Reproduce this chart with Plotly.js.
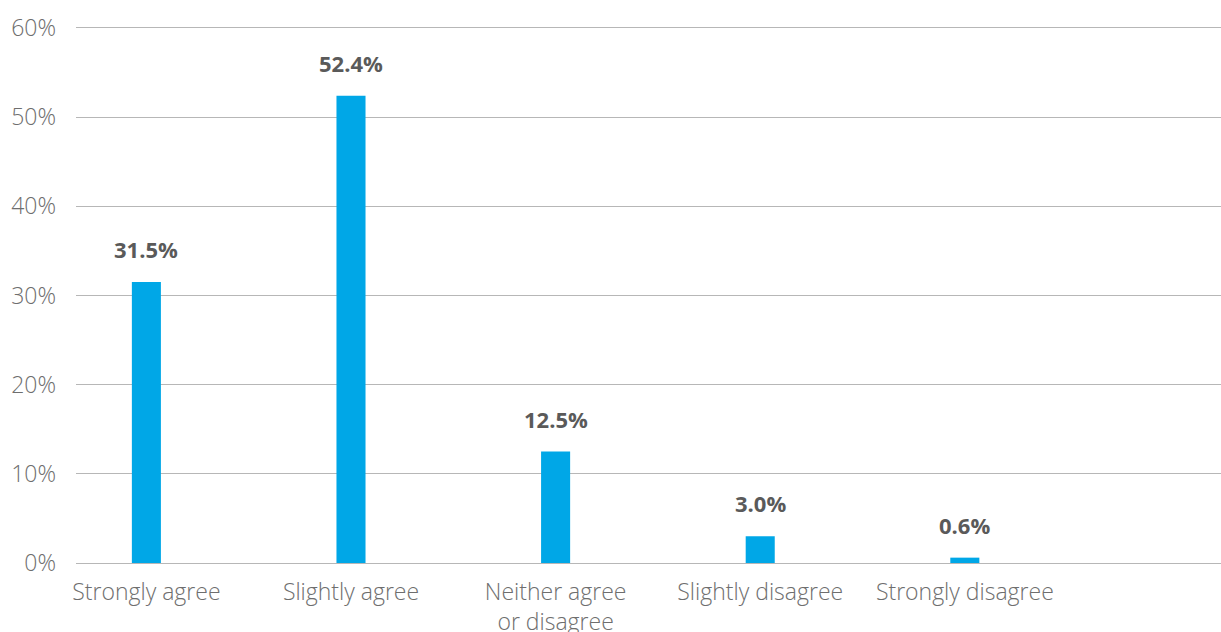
<!DOCTYPE html>
<html>
<head>
<meta charset="utf-8">
<script src="https://cdn.plot.ly/plotly-3.0.1.min.js"></script>
<style>
  html, body { margin: 0; padding: 0; background: #ffffff; }
  #chart { width: 1221px; height: 632px; }
</style>
</head>
<body>
<div id="chart"></div>
<script>
// Survey responses, share of respondents per answer
const categories = ["Strongly agree", "Slightly agree", "Neither agree<br>or disagree", "Slightly disagree", "Strongly disagree"];
const shares = [31.5, 52.4, 12.5, 3.0, 0.6];
const yTickValues = [0, 10, 20, 30, 40, 50, 60];
const yTickLabels = ["0%", "10%", "20%", "30%", "40%", "50%", "60%"];

const barColor = "#00a7e7";
const gridColor = "#b7b7b7";
const tickColor = "#6e6e6e";
const labelColor = "#5a5a5a";
const fontFamily = "'Open Sans', Lato, sans-serif";

const trace = {
  type: "bar",
  x: categories,
  y: shares,
  width: 0.142,
  marker: { color: barColor },
  hoverinfo: "skip"
};

const valueLabels = categories.map((c, i) => ({
  x: c,
  y: shares[i],
  text: shares[i].toFixed(1) + "%",
  showarrow: false,
  yanchor: "bottom",
  yshift: 16,
  font: { family: fontFamily, size: 22, color: labelColor, weight: 700 }
}));

const layout = {
  width: 1221,
  height: 632,
  margin: { l: 76, r: 0, t: 25, b: 69 },
  paper_bgcolor: "#ffffff",
  plot_bgcolor: "#ffffff",
  showlegend: false,
  font: { family: fontFamily, color: tickColor, size: 22 },
  xaxis: {
    type: "category",
    range: [-0.344, 5.252],
    showgrid: false,
    showline: false,
    zeroline: false,
    ticks: "",
    ticklabelstandoff: 13,
    tickfont: { family: fontFamily, size: 23, color: tickColor, weight: 300 },
    fixedrange: true
  },
  yaxis: {
    range: [0, 60.33],
    tickvals: yTickValues,
    ticktext: yTickLabels,
    showgrid: true,
    gridcolor: gridColor,
    gridwidth: 1,
    zeroline: true,
    zerolinecolor: gridColor,
    zerolinewidth: 1,
    showline: false,
    ticks: "",
    ticklabelstandoff: 19,
    tickfont: { family: fontFamily, size: 23, color: tickColor, weight: 300 },
    fixedrange: true
  },
  annotations: valueLabels
};

Plotly.newPlot("chart", [trace], layout, { displayModeBar: false, staticPlot: true });
</script>
</body>
</html>
